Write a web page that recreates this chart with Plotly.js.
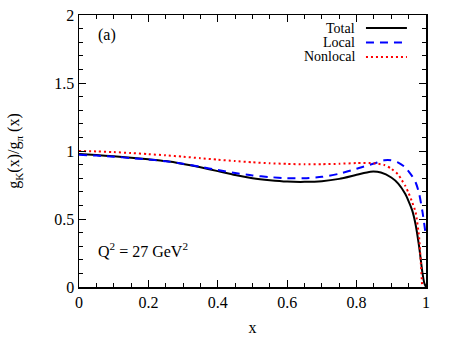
<!DOCTYPE html>
<html>
<head>
<meta charset="utf-8">
<script src="https://cdn.plot.ly/plotly-3.0.1.min.js"></script>
<style>html,body{margin:0;padding:0;background:#fff;}#chart{width:455px;height:340px;}</style>
</head>
<body>
<div id="chart"></div>
<script>
// Data
const xTotal = [0, 0.05, 0.1, 0.15, 0.2, 0.25, 0.3, 0.35, 0.4, 0.45, 0.5, 0.55, 0.6, 0.65, 0.7, 0.75, 0.8, 0.84, 0.87, 0.9, 0.92, 0.94, 0.95, 0.96, 0.97, 0.98, 0.99, 0.995, 1.0];
const yTotal = [0.978, 0.970, 0.961, 0.950, 0.939, 0.926, 0.905, 0.880, 0.852, 0.823, 0.800, 0.785, 0.775, 0.773, 0.778, 0.795, 0.825, 0.848, 0.842, 0.805, 0.76, 0.685, 0.63, 0.565, 0.46, 0.30, 0.10, 0.03, 0.0];

const xLocal = [0, 0.05, 0.1, 0.15, 0.2, 0.25, 0.3, 0.35, 0.4, 0.45, 0.5, 0.55, 0.6, 0.65, 0.7, 0.75, 0.8, 0.85, 0.88, 0.9, 0.92, 0.94, 0.96, 0.97, 0.98, 0.99, 1.0];
const yLocal = [0.972, 0.966, 0.958, 0.948, 0.937, 0.925, 0.906, 0.884, 0.860, 0.838, 0.820, 0.808, 0.800, 0.800, 0.810, 0.833, 0.870, 0.908, 0.932, 0.932, 0.915, 0.88, 0.815, 0.77, 0.69, 0.55, 0.37];

const xNonlocal = [0, 0.05, 0.1, 0.15, 0.2, 0.25, 0.3, 0.35, 0.4, 0.45, 0.5, 0.55, 0.6, 0.65, 0.7, 0.75, 0.8, 0.85, 0.88, 0.9, 0.92, 0.93, 0.94, 0.95, 0.96, 0.97, 0.98, 0.985, 0.989];
const yNonlocal = [1.000, 0.997, 0.992, 0.985, 0.977, 0.968, 0.958, 0.947, 0.936, 0.926, 0.917, 0.910, 0.905, 0.902, 0.903, 0.906, 0.911, 0.910, 0.897, 0.870, 0.826, 0.787, 0.745, 0.69, 0.625, 0.55, 0.37, 0.18, 0.0];

const seriesNames = ["Total", "Local", "Nonlocal"];
const xTicks = [0, 0.2, 0.4, 0.6, 0.8, 1];
const xTickText = ["0", "0.2", "0.4", "0.6", "0.8", "1"];
const yTicks = [0, 0.5, 1, 1.5, 2];
const yTickText = ["0", "0.5", "1", "1.5", "2"];

const FONT = "'Liberation Serif', 'Times New Roman', Times, serif";
const colors = ["#000000", "#0000ff", "#ff0000"];
const dashes = ["solid", "8px,6px", "2px,3px"];

const traces = [0, 1, 2].map(i => ({
  x: [xTotal, xLocal, xNonlocal][i],
  y: [yTotal, yLocal, yNonlocal][i],
  name: seriesNames[i], mode: "lines",
  line: {color: colors[i], width: 2, dash: dashes[i], shape: "spline", smoothing: 0.6}
}));

const legY = [0.952, 0.899, 0.846];
const annotations = [];
const shapes = [];
seriesNames.forEach((n, i) => {
  annotations.push({xref: "paper", yref: "paper", x: 0.801, y: legY[i], text: n, showarrow: false, xanchor: "right", yanchor: "middle", font: {family: FONT, size: 14, color: "#000"}});
  shapes.push({type: "line", xref: "paper", yref: "paper", x0: 0.827, x1: 0.945, y0: legY[i], y1: legY[i], line: {color: colors[i], width: 2, dash: dashes[i]}});
});
annotations.push({xref: "x", yref: "y", x: 0.05, y: 1.855, text: "(a)", showarrow: false, xanchor: "left", yanchor: "middle", font: {family: FONT, size: 16, color: "#000"}});
annotations.push({xref: "x", yref: "y", x: 0.05, y: 0.27, text: "Q<sup>2</sup> = 27 GeV<sup>2</sup>", showarrow: false, xanchor: "left", yanchor: "middle", font: {family: FONT, size: 16, color: "#000"}});

const layout = {
  width: 455, height: 340,
  margin: {l: 79, r: 29, t: 15, b: 53},
  paper_bgcolor: "#fff", plot_bgcolor: "#fff",
  showlegend: false,
  font: {family: FONT, size: 16, color: "#000"},
  xaxis: {
    range: [0, 1], tickvals: xTicks, ticktext: xTickText,
    ticks: "inside", ticklen: 7, tickwidth: 1, tickcolor: "#000",
    tickfont: {family: FONT, size: 16, color: "#000"},
    minor: {dtick: 0.05, ticks: "inside", ticklen: 4, tickcolor: "#000", showgrid: false},
    showline: true, linecolor: "#000", linewidth: 1.5, mirror: "allticks",
    showgrid: false, zeroline: false,
    title: {text: "x", font: {family: FONT, size: 16}, standoff: 12},
    automargin: false
  },
  yaxis: {
    range: [0, 2], tickvals: yTicks, ticktext: yTickText,
    ticks: "inside", ticklen: 7, tickwidth: 1, tickcolor: "#000",
    tickfont: {family: FONT, size: 16, color: "#000"},
    minor: {dtick: 0.1, ticks: "inside", ticklen: 4, tickcolor: "#000", showgrid: false},
    showline: true, linecolor: "#000", linewidth: 1.5, mirror: "allticks",
    showgrid: false, zeroline: false,
    title: {text: "g<sub>K</sub>(x)/g<sub>π</sub> (x)", font: {family: FONT, size: 16}, standoff: 30},
    automargin: false
  },
  annotations: annotations,
  shapes: shapes
};

Plotly.newPlot("chart", traces, layout, {staticPlot: true, displayModeBar: false});
</script>
</body>
</html>
